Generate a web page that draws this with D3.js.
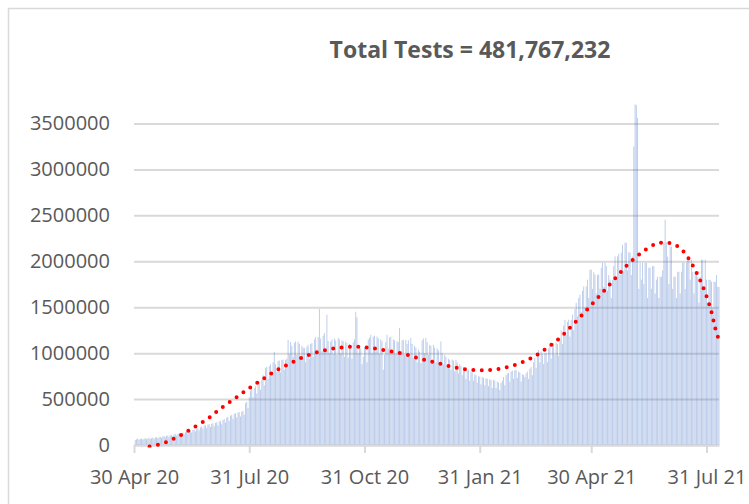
<!DOCTYPE html>
<html>
<head>
<meta charset="utf-8">
<script src="https://cdnjs.cloudflare.com/ajax/libs/d3/7.8.5/d3.min.js"></script>
<style>
  body { margin: 0; background: #fff; }
  svg text { font-family: "Open Sans", sans-serif; fill: #595959; }
</style>
</head>
<body>
<svg id="testsContainer" width="749" height="504"></svg>
<script>

// daily tests (thousands), one value per day starting 30 Apr 2020
let dailyTestsK = [
    55, 62, 70, 58, 66, 72, 60,
    68, 75, 64, 72, 78, 66, 74,
    80, 70, 82, 86, 74, 84, 88,
    78, 92, 98, 84, 100, 104, 90,
    106, 110, 96, 114, 118, 102, 122,
    126, 108, 130, 136, 118, 142, 146,
    126, 152, 158, 136, 164, 170, 148,
    176, 184, 160, 194, 200, 174, 210,
    216, 186, 222, 226, 196, 232, 238,
    204, 242, 248, 214, 256, 262, 226,
    272, 282, 244, 300, 306, 262, 318,
    328, 284, 340, 346, 300, 352, 358,
    310, 362, 372, 330, 455, 470, 400,
    520, 590, 610, 520, 620, 640, 560,
    660, 690, 600, 710, 760, 650, 840,
    850, 720, 860, 880, 760, 900, 1015,
    880, 800, 915, 920, 790, 925, 930,
    820, 925, 940, 1145, 990, 1120, 1080,
    960, 1110, 1130, 980, 1125, 1100, 940,
    1080, 1060, 1055, 900, 1070, 1090, 940,
    1100, 1110, 960, 1150, 1175, 1010, 1175,
    1480, 1160, 1020, 1190, 1220, 1050, 1420,
    1130, 1000, 1125, 1150, 990, 1160, 1140,
    980, 1165, 1150, 1000, 1140, 1130, 960,
    1125, 1110, 950, 1100, 1090, 940, 1120,
    1150, 1450, 1390, 1000, 1080, 1050, 880,
    960, 1060, 1080, 900, 1150, 1170, 1200,
    1000, 1180, 1190, 1020, 1180, 1160, 990,
    1150, 1130, 820, 980, 1120, 1200, 1050,
    1170, 1180, 1040, 1150, 1140, 990, 1130,
    1120, 1275, 1000, 1140, 1145, 980, 1145,
    1100, 1140, 960, 1165, 1100, 950, 1080,
    1060, 900, 1040, 1015, 890, 1140, 1160,
    1000, 1165, 1120, 980, 1090, 1080, 930,
    1090, 1060, 900, 1050, 1030, 880, 1127,
    1000, 880, 980, 960, 840, 940, 925,
    820, 930, 920, 800, 925, 900, 780,
    880, 860, 760, 850, 820, 720, 810,
    820, 700, 800, 790, 700, 770, 760,
    680, 750, 745, 660, 740, 730, 650,
    727, 720, 640, 715, 710, 620, 710,
    700, 620, 690, 680, 600, 675, 700,
    740, 650, 760, 780, 785, 690, 800,
    810, 720, 815, 818, 730, 800, 790,
    690, 770, 763, 740, 780, 800, 720,
    830, 850, 760, 900, 950, 840, 1000,
    1035, 900, 1020, 990, 880, 1000, 1003,
    900, 1050, 1080, 940, 1100, 1112, 980,
    1112, 1100, 970, 1150, 1250, 1100, 1300,
    1363, 1200, 1340, 1363, 1180, 1363, 1420,
    1250, 1480, 1548, 1400, 1600, 1635, 1450,
    1680, 1726, 1500, 1726, 1800, 1600, 1908,
    1908, 1700, 1880, 1854, 1650, 1854, 1854,
    1700, 1930, 1984, 1720, 1984, 1950, 1680,
    1850, 1799, 1600, 1799, 1950, 2054, 1800,
    2054, 2080, 1850, 2094, 2180, 1900, 2202,
    2202, 1900, 2100, 2094, 1850, 2050, 3250,
    3710, 3700, 3560, 1700, 1984, 1800, 1984,
    1750, 1984, 1984, 1600, 1930, 1930, 1700,
    1948, 1948, 1650, 1800, 1832, 1600, 1832,
    1832, 1900, 2202, 2453, 2202, 2050, 1750,
    2160, 2159, 1700, 1832, 1832, 1600, 1886,
    1886, 1650, 1886, 1984, 1984, 1700, 1984,
    2017, 2017, 1800, 2017, 1886, 1650, 1886,
    1886, 1832, 1550, 1832, 2017, 2017, 1700,
    2017, 1799, 1550, 1799, 1799, 1777, 1500,
    1777, 1777, 1850, 1722, 1722
];

// polynomial trendline (day index, thousands)
let trendDays = [0, 6, 11, 24, 36, 47, 59, 69, 80, 91,
    102, 113, 125, 137, 150, 163, 176, 189, 202, 215,
    228, 241, 254, 267, 280, 293, 306, 318, 329, 340,
    349, 358, 367, 376, 385, 394, 404, 415, 421, 428,
    434, 439, 446, 452, 457, 461, 464, 466.5];
let trendK = [-80, -55, -22, 22, 98, 185, 287, 396, 501, 610,
    709, 807, 891, 967, 1025, 1057, 1072, 1057, 1028, 992,
    941, 897, 850, 821, 814, 832, 880, 952, 1050, 1166,
    1290, 1420, 1555, 1690, 1828, 1963, 2082, 2180, 2202, 2198,
    2162, 2101, 1955, 1791, 1621, 1447, 1272, 1160];

let tickDates  = [new Date(2020, 3, 30), new Date(2020, 6, 31), new Date(2020, 9, 31),
                  new Date(2021, 0, 31), new Date(2021, 3, 30), new Date(2021, 6, 31)];
let tickLabels = ["30 Apr 20", "31 Jul 20", "31 Oct 20", "31 Jan 21", "30 Apr 21", "31 Jul 21"];
let yTicks     = [0, 500000, 1000000, 1500000, 2000000, 2500000, 3000000, 3500000];
let chartTitle = "Total Tests = 481,767,232";

let startDate = new Date(2020, 3, 30);

drawTestsChart();

function drawTestsChart() {

    let svg = d3.select("#testsContainer");
    let margin = {left: 134, right: 30, top: 123.5, bottom: 59};
    let w = 749, h = 504;

    let data = dailyTestsK.map((v, i) => ({date: d3.timeDay.offset(startDate, i), value: v * 1000}));
    let endDate = d3.timeDay.offset(startDate, dailyTestsK.length);

    let x = d3.scaleTime()
        .domain([startDate, endDate])
        .range([margin.left, w - margin.right]);

    let y = d3.scaleLinear()
        .domain([0, 3500000])
        .range([h - margin.bottom, margin.top]);

    let step = x(d3.timeDay.offset(startDate, 1)) - x(startDate);

    // outer chart border (cropped at right/bottom in the original)
    svg.append("path")
        .attr("d", `M8.5,${h} V8.5 H${w}`)
        .attr("fill", "none")
        .attr("stroke", "#d9d9d9")
        .attr("stroke-width", 1.5);

    // gridlines + y labels
    let yAxis = svg.append("g")
        .attr("transform", `translate(${margin.left},0)`)
        .call(d3.axisLeft(y)
            .tickValues(yTicks)
            .tickFormat(d3.format("d"))
            .tickSize(-(w - margin.right - margin.left))
            .tickPadding(24));
    yAxis.select(".domain").remove();
    yAxis.selectAll("line").attr("stroke", "#d9d9d9").attr("stroke-width", 2);
    yAxis.selectAll("text")
        .style("font-size", "20px")
        .attr("fill", "#595959");

    // bars - thin with gaps, like the excel column series
    svg.append("g")
        .selectAll("rect")
        .data(data)
        .enter().append("rect")
        .attr("x", d => x(d.date) + 0.8)
        .attr("width", step * 0.72)
        .attr("y", d => y(d.value))
        .attr("height", d => y(0) - y(d.value))
        .attr("fill", "#4472c4")
        .attr("fill-opacity", 0.38);

    // x axis
    let xAxis = svg.append("g")
        .attr("transform", `translate(0,${y(0)})`)
        .call(d3.axisBottom(x)
            .tickValues(tickDates)
            .tickFormat((d, i) => tickLabels[i])
            .tickSizeInner(8)
            .tickSizeOuter(0)
            .tickPadding(17));
    xAxis.select(".domain").attr("stroke", "#d9d9d9").attr("stroke-width", 2);
    xAxis.selectAll("line").attr("stroke", "#d9d9d9").attr("stroke-width", 2);
    xAxis.selectAll("text")
        .style("font-size", "20px")
        .attr("fill", "#595959");

    // trendline, dotted red
    svg.append("clipPath").attr("id", "plotClip")
        .append("rect")
        .attr("x", margin.left).attr("y", 0)
        .attr("width", w - margin.right - margin.left + 2)
        .attr("height", y(0) + 2.5);

    let line = d3.line()
        .x(d => x(new Date(startDate.getTime() + d[0] * 864e5)))
        .y(d => y(d[1] * 1000))
        .curve(d3.curveCatmullRom);

    svg.append("path")
        .datum(trendDays.map((d, i) => [d, trendK[i]]))
        .attr("clip-path", "url(#plotClip)")
        .attr("d", line)
        .attr("fill", "none")
        .attr("stroke", "#ff0000")
        .attr("stroke-width", 4)
        .attr("stroke-linecap", "round")
        .attr("stroke-dasharray", "0 8.4");

    // title
    svg.append("text")
        .attr("x", 470)
        .attr("y", 58)
        .attr("text-anchor", "middle")
        .style("font-size", "23px")
        .style("font-weight", "bold")
        .text(chartTitle);
}
</script>
</body>
</html>
